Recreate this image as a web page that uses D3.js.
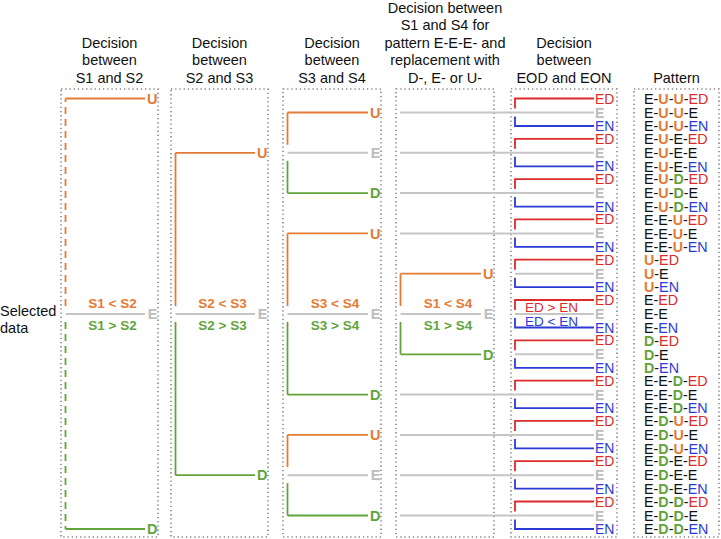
<!DOCTYPE html>
<html><head><meta charset="utf-8">
<script src="https://cdn.jsdelivr.net/npm/d3@7"></script>
<style>body{margin:0;background:#fff}svg{display:block;font-family:"Liberation Sans",Arial,Helvetica,sans-serif}</style>
</head><body><svg id="c" width="721" height="539"></svg>
<script>
// ---------- data ----------
const panelTitles = [
  ["Decision", "between", "S1 and S2"],
  ["Decision", "between", "S2 and S3"],
  ["Decision", "between", "S3 and S4"],
  ["Decision between", "S1 and S4 for", "pattern E-E-E- and", "replacement with", "D-, E- or U-"],
  ["Decision", "between", "EOD and EON"],
  ["Pattern"]
];
const prefixes = ["E-U-U-", "E-U-E-", "E-U-D-", "E-E-U-", "U-", "E-", "D-", "E-E-D-", "E-D-U-", "E-D-E-", "E-D-D-"];
const endings = ["ED", "E", "EN"];
const endingCompare = ["ED > EN", "ED < EN"];
const leafLabels = ["U", "E", "D"];
// decision trees: panel, root group, up/down leaf as [group, ending row], comparison labels
const decisions = [
  {panel: 0, root: 5, up: [0, 0], down: [10, 2], cmp: ["S1 < S2", "S1 > S2"], dashed: true},
  {panel: 1, root: 5, up: [1, 1], down: [9, 1], cmp: ["S2 < S3", "S2 > S3"]},
  {panel: 2, root: 1, up: [0, 1], down: [2, 1], cmp: null},
  {panel: 2, root: 5, up: [3, 1], down: [7, 1], cmp: ["S3 < S4", "S3 > S4"]},
  {panel: 2, root: 9, up: [8, 1], down: [10, 1], cmp: null},
  {panel: 3, root: 5, up: [4, 1], down: [6, 1], cmp: ["S1 < S4", "S1 > S4"]}
];
const sideLabel = ["Selected", "data"];

// ---------- layout ----------
const C = {orange: "#e47b35", green: "#62a43a", red: "#dd2a2a", blue: "#2b3bd6",
           grayLine: "#c6c6c6", grayText: "#bdbdbd", dot: "#858585", text: "#111"};
const panels = [[61, 158], [171, 268], [283, 381], [396, 494], [511, 617], [634, 719]];
const boxTop = 89, boxBottom = 537;
const yG = d3.scaleLinear().domain([0, prefixes.length - 1]).range([112.5, 515.5]);
const rowOff = [-14, 0, 13.5];
const rowY = (g, e) => yG(g) + rowOff[e];

const svg = d3.select("#c");

// dotted boxes
svg.append("g").selectAll("rect").data(panels).join("rect")
  .attr("x", d => d[0]).attr("y", boxTop)
  .attr("width", d => d[1] - d[0]).attr("height", boxBottom - boxTop)
  .attr("fill", "none").attr("stroke", C.dot).attr("stroke-width", 1.6)
  .attr("stroke-dasharray", "1.3,2.9");

// titles
const tg = svg.append("g").attr("font-size", 14.5).attr("fill", C.text).attr("text-anchor", "middle");
panelTitles.forEach((lines, i) => {
  const cx = (panels[i][0] + panels[i][1]) / 2;
  const n = lines.length;
  lines.forEach((t, j) => {
    tg.append("text").attr("x", cx).attr("y", 82.5 - (n - 1 - j) * 17.4).text(t);
  });
});

// side label
svg.append("g").attr("font-size", 14.5).attr("fill", C.text)
  .selectAll("text").data(sideLabel).join("text")
  .attr("x", 0).attr("y", (d, i) => 316 + i * 17).text(d => d);

const lines = svg.append("g").attr("fill", "none").attr("stroke-width", 1.8);
const labels = svg.append("g").attr("font-weight", "bold").attr("font-size", 14.5).attr("text-anchor", "end");

// pass-through gray lines (panel 4 to panel 5)
const p4 = panels[3], p5 = panels[4];
const lineEnd5 = p5[1] - 23;
prefixes.forEach((p, g) => {
  const inTree = decisions.some(d => d.panel === 3 && (g === d.root || g === d.up[0] || g === d.down[0]));
  const x0 = inTree ? p5[0] + 4 : p4[0] + 4;
  lines.append("line").attr("x1", x0).attr("x2", lineEnd5)
    .attr("y1", yG(g)).attr("y2", yG(g)).attr("stroke", C.grayLine).attr("stroke-width", 2);
});

// decision trees
decisions.forEach(d => {
  const [l, r] = panels[d.panel];
  const xv = l + 4.5, xe = r - 13;
  const yr = yG(d.root), yu = rowY(d.up[0], d.up[1]), yd = rowY(d.down[0], d.down[1]);
  lines.append("line").attr("x1", xv).attr("x2", xe).attr("y1", yr).attr("y2", yr)
    .attr("stroke", C.grayLine).attr("stroke-width", 2);
  const dash = d.dashed ? "7,5" : null;
  lines.append("line").attr("x1", xv).attr("x2", xv).attr("y1", yr - 8).attr("y2", yu)
    .attr("stroke", C.orange).attr("stroke-dasharray", dash);
  lines.append("line").attr("x1", xv).attr("x2", xe).attr("y1", yu).attr("y2", yu).attr("stroke", C.orange);
  lines.append("line").attr("x1", xv).attr("x2", xv).attr("y1", yr + 8).attr("y2", yd)
    .attr("stroke", C.green).attr("stroke-dasharray", dash);
  lines.append("line").attr("x1", xv).attr("x2", xe).attr("y1", yd).attr("y2", yd).attr("stroke", C.green);
  const lx = r - 0.5;
  [[yu, C.orange, 0], [yr, C.grayText, 1], [yd, C.green, 2]].forEach(([y, c, k]) => {
    labels.append("text").attr("x", lx).attr("y", y + 5.2).attr("fill", c).text(leafLabels[k]);
  });
  if (d.cmp) {
    const cx = (l + r) / 2 + 3;
    labels.append("text").attr("text-anchor", "middle").attr("font-size", 13.5)
      .attr("x", cx).attr("y", yr - 6.5).attr("fill", C.orange).text(d.cmp[0]);
    labels.append("text").attr("text-anchor", "middle").attr("font-size", 13.5)
      .attr("x", cx).attr("y", yr + 15.5).attr("fill", C.green).text(d.cmp[1]);
  }
});

// EOD / EON panel
const xv5 = p5[0] + 4;
const endColor = {"ED": C.red, "E": C.grayText, "EN": C.blue};
prefixes.forEach((p, g) => {
  const yc = yG(g), ya = rowY(g, 0), yb = rowY(g, 2);
  lines.append("path").attr("d", `M${xv5},${yc - 4}V${ya}H${lineEnd5}`).attr("stroke", C.red);
  lines.append("path").attr("d", `M${xv5},${yc + 4}V${yb}H${lineEnd5}`).attr("stroke", C.blue);
  endings.forEach((e, k) => {
    svg.append("text").attr("x", lineEnd5 + 1).attr("y", rowY(g, k) + 5)
      .attr("font-size", 14).attr("font-weight", e === "E" ? "bold" : "normal")
      .attr("fill", endColor[e]).text(e);
  });
});
const gMid = 5;
svg.append("text").attr("x", p5[0] + 14).attr("y", yG(gMid) - 2.5).attr("font-size", 13.5)
  .attr("fill", C.red).text(endingCompare[0]);
svg.append("text").attr("x", p5[0] + 14).attr("y", yG(gMid) + 11.5).attr("font-size", 13.5)
  .attr("fill", C.blue).text(endingCompare[1]);

// Pattern panel
const pg = svg.append("g").attr("font-size", 14.3);
const tokColor = {"U": C.orange, "D": C.green};
prefixes.forEach((p, g) => {
  endings.forEach((e, k) => {
    const t = pg.append("text").attr("x", panels[5][0] + 10).attr("y", rowY(g, k) + 5.2);
    const toks = p.split("-").filter(s => s.length);
    toks.forEach(s => {
      t.append("tspan").attr("fill", tokColor[s] || C.text)
        .attr("font-weight", tokColor[s] ? "bold" : "normal").text(s);
      t.append("tspan").attr("fill", C.text).text("-");
    });
    t.append("tspan").attr("fill", e === "ED" ? C.red : e === "EN" ? C.blue : C.text).text(e);
  });
});
</script></body></html>
